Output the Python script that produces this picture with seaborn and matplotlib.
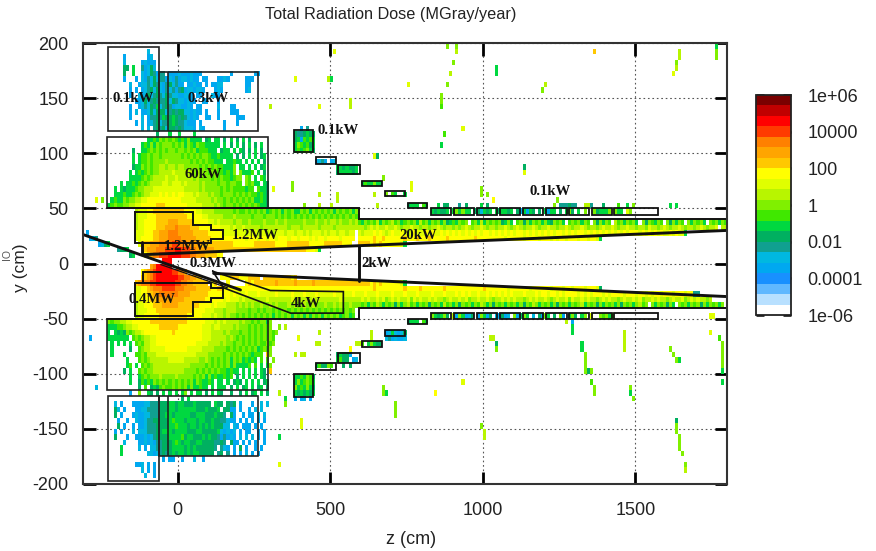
import numpy as np
import seaborn as sns
import matplotlib.pyplot as plt
from matplotlib.colors import ListedColormap
from matplotlib.patches import Rectangle

# ============ DATA ============
# one character per cell (10 cm x 5 cm), '.' = empty, see dose_colors for the bands
band_chars = "0123456789abcdefghijk"
dose_colors = ["#ffffff", "#b8e0ff", "#60b8ff", "#1890ff", "#00a8f0", "#00b8e0", "#10a090",
               "#00b060", "#00d840", "#40e800", "#80f000", "#b8f500", "#e0ff00", "#ffff00",
               "#ffc800", "#ffa500", "#ff8000", "#ff3a00", "#ff0000", "#c00000", "#7a0000"]

# z = -310 .. 300, y = 200 .. 50
upper_cells = [
    "",
    ".....................5",
    ".............4.......45",
    ".............5.....45444",
    ".............77.8..64575",
    ".............7..8..54576466.44454445444.........4.......44",
    ".............4...4.5465756645464554544.44...4454.....444",
    "...............5..455657654675644.44544.4.4455.......44",
    "...............4.4.456757546564674554554...454.......45",
    "...............4..545756765765544554.44...544........",
    ".................44575676667576554544..44...4........",
    "...............4..456576856764554454.44.....5...44...",
    "...............4.5.44575777567677554544.4...4...444..",
    "...............4...5.46676877876765454..44..4.....444..",
    ".................4.5.4567566787665444.4.......4...4.....",
    "...................5.5.67675776765554.54......4........",
    "........................7...8..8....8.........",
    ".....................8898a9a9a9898a8888.78.88.7.8.7.8.7.....",
    "...................898a8a9aaa9a9a8a98a9988888.8.7.8.7.8.7.8..",
    "................7..889a9a9a9aa9aa9a9a8999888.788.8.87.7.8.7..",
    "................8.899a9aa9aaaaaa9a9a9a9aa98898888.7.7.8.8.78.",
    "................8.899a9aaaabaaaaaaa9a9a9a99888.88988.8.8.8.7.",
    "................788a9a9aabbabbabbaaaaa9a9a9a99888a.88.8.8.78.",
    "...............8.8989a9aabbbbcbbbbbbabaaa9aa99898a.a8889.8.7.",
    "...............88889a9abbbbcbbcbbbbbabaaaa9a9a9989aa.a9.8.98.",
    "............8.88989a9abbbbccbcccbcbbbbabaaaa9aa9aa99.a9a88.87",
    "..........8.878889aabbbccccccccccbbbbbabaaaaa9a9a9999899.9887",
    "..........8889889a9abbcccdcdcdcddcccbcbbbabaa9aaa9a9a9a998987",
    "......a..8988a9aabbccdddddddddddcccccbbbbbabaa9a9a9a9a9a88987",
    "........89a99aabbccdddddeeedddddddcccccbbbbaba9aa9a9a9a9a9887",
]

# z = -310 .. 590, y = 50 .. -50
middle_cells = [
    ".................bcccddeeeeeeeeeeddddccbbbbaaaaaa9a99a9a9a9a89a9a8a9a88a9a8a9a9a9a8a9a9a8a",
    ".................bcccdddeeeeeeeeeedddddccbbbbbaaabaaaaa9aaa9aaa9a9a9a9a9a9a9a9a9a9a9a9a9a9",
    ".................bccddddeeeefffeeeeedddddccbcbbbbabbaabaaaabaaabaabaaaaabaaabaababbabaabab",
    ".................bccddddeeefffgffffeeedddddddcccbcbbcbbbbbabbbbbbbbabbbabbbbbabbbbabbbbbbb",
    ".4...............cccdddeefffgggfffffeeeeedddddcccccccbcccbccbcbcccbccbccbcbcccbcbccbccbcc",
    "..456............ccddddeefffggggfffffeeeeedddddddddddcdddcddcddcdddcddcdddcdcddcddddcdddd",
    ".....4578.........ceeefffgggghhgggfffffeeeeeeeeeedddddddeeeeeeeddddeeeeeeedddddeeeeeeddd",
    "...........6778.....efffggghhhiihhhggffffffeeeeeeeeeeeeeeeeeeeeeeeeeeeeeedddc8",
    "...............78...defgghhhiiiihhhggfffeeeedd",
    "..........................iii",
    "......................fgiiiii",
    "...................defghiiiiihhggf",
    "...................eefghiiiiiiihhggffee......dddeeedddeeee.eeeeeeeeede",
    ".................efggghhiiiiiihhggffeeeee.de...d.....dedeeeeeeefeeeeefeeeeefeeeeeeeeeeeeee",
    ".................ccddefggghhhhgggffffeeeeeddeedddddddddddddddddddddddddddddddddddddddddddd",
    ".................ccddeeffggggggffffeeeeeedddddddcdcccdcccdcccccdccccdcccdcccdcccccdcccccdc",
    ".................ccdddeefffffffffeeeeeeeddddddcdcccbcbbbbbbbcbbbbbbbcbbbbbbcbbbbbbbbcbbbbb",
    ".................bccdddeeefffffeeeeeeeddddcdcccbbbabababaabaababaaababaabaabaaabaababaabaa",
    ".................bcccdddeeeeeeeeeeeeddddcccbbbabbbaaaa9aa9a9aa9a9aa9a9a9a9a9a9a9a9a9a9a9a",
    ".................bccdddddeeeeeeeeedddddcccbcbbabaa9a9a9a9a9a9a8a9a9a8a9a8a8a9a8a9a9a89a89",
]

# z = -310 .. 300, y = -50 .. -200
lower_cells = [
    "........a9aabbccddddddeeeeeeeeeeeeddddddcccbcbcbbbbabaa9a9aa8a",
    "........88899abbccdddddddeeeeeeddddddddcccbccbbbbabaaa9a9a9a9a..a.b",
    "........8.8787a9abbcdddddddddedddddddddcccbbbbabaaa9aa9a9a9a9a9a",
    "..4.....8888888.9a9abbccdddddddddddddddcccbbbbbaba9a9a9a9a9a9a9",
    ".........8.8.8.8.9a9bbccdddddddddddddccccbbbbabaa9aa9a9a9a99a9a",
    ".........8.....7..9abbcccccdddddddcccccbbbbaaaa9a9a9a9a9a89a9a.",
    ".........8...8...99a9bbbcccccccccccccbbbbaaaaa9a9a9a9a98999.9a",
    "..............8...9a9abbbbbbcccccbbbbbaaba9a9a9a8a9a89898.9.9.a",
    "..............89.8.9a9abbbbbbbbbbbbaaaaa9a9a9a9a8a88889.9.8.8a",
    ".............7.8..9a9aabbbbbbbbbbaaaa9a9a9a9a998988.8.8.8.87.e",
    "...............8..89a9aaabaaaabaaaaa9a9a8a8988989.7.8.8.8.87.",
    "...............8..79898a9a9a9a9a9a9a8a98898.88.8.787.8.8.8.78.",
    "....5.............7.9.7879a99a9a9a8a88988.8.888.7.8.78.8.78.7",
    "...............4..a..87.7.8.8.8.8a.8.88.7.8.87..7..7.8.78.8.7",
    "................................7.8.......",
    "..........5.4...44445566677788788777877777.877.767.4...4..5.5",
    "..........75.4...4455666677788788888877787778.7744.4..4.5.5..",
    "..........7.4...4544556667788788888778887778776.74..4.44.5.5.",
    "...........4..4..544566777778988878887887787766544.4.4.4.4.4.",
    "...........7.4..4.445666777788988878878787877755.54.444.4.4.",
    "..........4.4...5.55566677888788887778877777854545.4.44..4.4.",
    "..........7...4..444545677778888978877787877646454.5.5.5.4.4.",
    ".............5....44545466777898788778877776676.744.4.4.4..4.",
    "............8.....5.4.5566777888878787777776.654.4.7.4..4.4..",
    "............8........5545676787887878877777.67.6.4.4.5.4.4.",
    "..........................4.44..4...5..4......",
    ".................445.4.4...",
    "...................5.4.4.",
    "....................5..4..",
    "",
]

# z = 590 .. 1800, the long bands beside the beam pipe
band_upper_cells = [
    "..........................8.77...6.7....8.7.......................666766....6...7.......8.7...........8.8......",
    "........................878778.8a8a88.775878.878878.748487.7.8488.7.8a7.8.a..a7888a.a88.ca",
    "",
    "98a9a9b8a9ab9a89a9a8b9a8a9a8a7898a9a.9a8b8a9a9a78a8.9a7a8a9a8a87a9a8.9a9a8a9.a7a8a9.b9a8a9a8.a7a98a9.a7a8a9.a8a9a8.a9a8a9a",
    "bbabcbcbbcbbcbabbcbbabbabbcbabbababcbabbcbabbabbcbabcbabbcbabbcbbabbcbabbcbabbabcbbcbabbcbbabbacbbabcbabbcbabbabcbabbc.bbab",
    "cbcccdcdcbcdccdcbcdcccdcdccdcdcdcdcdcdcdcddcdcdcdcdcddcdcdcdcdcdcddcdcdcddcdcdcdcdcdcdcdcdddcdcdcdcdccdcdcc8",
    "dddddeddeddddddedddedddedddddeddddddddedddddddddcdddddcddddcdddcdcddcdddcddcddc8",
    "eeeedededdddddc8",
]
band_lower_cells = [
    "eeeedededdddddc8",
    "dddddedddddddddeddddedddddddeddddddddddddedddddddcddddddcddddddcdddcddcdddcdddc7",
    "ccdcccdccccdcccdcccdccccdcccdcccdcdcdccdccdcdcdcdcdcccdcccdcddcddcdcddddcdcdcdddcdcddddcdddcddcdcddcdddcdddcdd66",
    "bcbcbbcbcabcbcbbcacbcbbcbcbbabcbbcbcabbcbbcbabbcbcbcbbabcbcbbcbabcbbcacbbcbcbbabcbcbbabcbbcbcabbcbcbbabcbbcabcbcbbab",
    "a9a8a9ba8a9a7a8ab9a8a9a7a9a8b9a8a7a9a8a9ba8a7a9a8a9a8a7a9ba8a9a8a7a9a8a9ab8a9a7a8a9a8a7a9a8ab9a.a8a9a7a8.a9a8a9a7a8a9a8a",
    "",
    "........................a878a7.b4a8457.4a847.54745.a47a8.5.74a8.7.a4.8a7.8a.c..a9a8a",
]

# cells inside the small collimator boxes, top left corner of each patch
box_fill_z = [380, 452, 527, 605, 681, 756, 380, 452, 527, 605, 681, 756]
box_fill_y = [125, 95, 90, 75, 65, 55, -100, -90, -80, -70, -60, -50]
box_fill_cells = [
    ["..4.6..", "7667877", "7849898", "8a98978", "8989a87"],
    ["4564.45"],
    ["8878778", "7888878"],
    ["8988a88"],
    ["a.98..8"],
    ["7888.98"],
    ["8898a97", "8a89a98", "a898a87", "8787878", "4.45.4."],
    ["8977a9."],
    ["78774..", "8977.45", "..7.7.."],
    ["9.8a877"],
    ["4585457", "5645445"],
    ["7888.98"],
]

# isolated cells outside the shielding
stray_z = [517, 383, 503, 495, 750, 566, 560, 466,
           915, 888, 910, 904, 891, 882, 869, 863, 860,
           931, 871, 860, 1044, 1044,
           651, 642, 379, 379, 675, 675, 762, 762, 642, 650,
           997, 997, 1013, 1035, 528, 520, 506, 468, 468, 414,
           1362, 1646, 1646, 1638, 1632, 1624,
           1766, 1762, 1762, 1204, 1199, 1194, 1130, 1130, 1130,
           1243, 1237, 1335, 1346, 1446, 1490, 304, 315,
           392, 462, 462, 452, 386, 403, 414, 560, 637, 632, 583, 593,
           675, 675, 686, 719, 719, 719, 844, 939, 400, 400,
           997, 1002, 1002, 1024, 1030, 1044, 1044, 1297,
           1329, 1329, 1338, 1338, 1338, 1338, 1340, 1351, 1356, 1362, 1362,
           1465, 1465, 1465, 1465, 1487, 1487, 1487, 1498,
           1618, 1629, 1645, 1635, 1749, 1774, 1785,
           1785, 1785, 1785, 1785, 1785, 1785,
           1634, 1634, 1634, 1645, 1645, 1645, 1651, 1662, 1667,
           1744, 1755, 1297, 1297, 1297, 1275, 332, 337, 359, 359, 337, 293, -262]
stray_y = [194, 170, 170, 167, 162, 146, 141, 143,
           198, 198, 192, 183, 174, 162, 155, 149, 143,
           124, 118, 110, 177, 173,
           98, 98, 74, 69, 80, 76, 73, 67, 61, 55,
           66, 62, 62, 58, 64, 59, 55, 62, 55, 55,
           194, 194, 187, 182, 176, 171,
           199, 194, 190, 165, 158, 158, 90, 85, 82,
           58, 53, 54, 54, 54, 54, 143, 70,
           -68, -63, -70, -70, -83, -83, -83, -75, -63, -66, -71, -74,
           -111, -116, -119, -126, -131, -135, -119, -107, -143, -148,
           -147, -152, -158, -65, -69, -74, -79, -62,
           -72, -75, -80, -85, -90, -95, -99, -99, -107, -111, -116,
           -62, -67, -72, -75, -111, -116, -119, -122,
           -79, -83, -87, -87, -63, -68, -71,
           -75, -80, -85, -90, -95, -107,
           -143, -148, -154, -155, -160, -167, -171, -183, -187,
           -45, -48, -54, -58, -63, -54, -184, -155, -122, -126, -116, -80, 58]
stray_level = ("cc8bcbbc" "aababaaa9" "c9888" "7caaaaccbb" "aaadbbbbba" "ebbabc" "8aab9a7cc"
               "aabb9abc" "cbbbbbbdbbbb" "aa8aaadccc" "abbbb7a9" "88aaaa7a9aa" "bbbbaa8a"
               "aa8ac9a" "aaaa88" "7aaaaaaab" "cc488bc88abec")

# shielding outlines, in cm
shield_top_z = [-140, 52, 52, 108, 108, 150, 150, 108, 108, -140, -140]
shield_top_y = [47, 47, 35, 35, 30, 30, 22, 22, 19, 19, 47]
shield_bottom_z = [-140, -140, 52, 52, 108, 108, 150, 150, 108, 108, -140]
shield_bottom_y = [-18, -48, -48, -35, -35, -31, -31, -22, -22, -18, -18]
pipe_top_z = [-115, -115, 1800]
pipe_top_y = [19, 8, 30]
pipe_bottom_z = [118, 1800]
pipe_bottom_y = [-9, -30]
stub_bottom_z = [-115, -115, -55]
stub_bottom_y = [-18, -8, -8]
wall_top_z = [-230, 595, 595, 1800]
wall_top_y = [50, 50, 40, 40]
wall_bottom_z = [-230, 595, 595, 1800]
wall_bottom_y = [-50, -50, -40, -40]
plug_z = [595, 595]
plug_y = [16, -16]
diagonal_z = [-307, 206]
diagonal_y = [26, -24]
diagonal2_z = [-55, 163]
diagonal2_y = [-1, -22]
wedge_z = [115, 304, 543, 543, 370, 150]
wedge_y = [-7, -24.5, -25.5, -45, -45, -22]

# big boxes: z0, y0, z1, y1
big_boxes = [(-229, 120.6, -62, 196), (-62, 120.6, 265, 174), (-33, 120.6, -33, 174),
             (-230, 50, 295, 115), (-229, -120.6, -62, -197), (-62, -120.6, 265, -175),
             (-33, -120.6, -33, -175), (-230, -50, 295, -115)]
small_box_z = [(380, 445), (452, 520), (527, 596), (605, 671), (681, 746), (756, 818), (831, 897),
               (906, 972), (982, 1047), (1057, 1122), (1132, 1198), (1207, 1276), (1283, 1348),
               (1358, 1423), (1430, 1574)]
small_box_y_top = [(100.7, 121.5), (90, 97), (81, 89), (70, 75), (61, 66), (50, 55)] + [(44, 50)] * 9
small_box_y_bottom = [(-121.5, -100), (-97, -90), (-90, -81), (-76, -70), (-66, -60), (-55, -50)] + [(-50, -45)] * 9

power_labels = ["0.1kW", "0.3kW", "60kW", "0.1kW", "0.1kW", "1.2MW", "20kW", "1.2MW", "0.3MW",
                "2kW", "0.4MW", "4kW"]
power_z = [-147, 101, 85, 527, 1220, 255, 789, 33, 115, 651, -85, 419]
power_y = [150, 150, 81, 121, 65, 25, 25, 15, 0, 0, -33, -36]

z_ticks = [0, 500, 1000, 1500]
y_ticks = [-200, -150, -100, -50, 0, 50, 100, 150, 200]
cbar_values = [-6, -4, -2, 0, 2, 4, 6]
cbar_labels = ["1e-06", "0.0001", "0.01", "1", "100", "10000", "1e+06"]
cbar_minor = [-5, -3, -1, 1, 3, 5]

# ============ GRID ============
grid = np.full((80, 211), np.nan)


def col_of(z):
    return (np.asarray(z, dtype=float) + 310) / 10


def row_of(y):
    return (200 - np.asarray(y, dtype=float)) / 5


def paint(z, y, rows):
    c0 = int(np.floor(col_of(z)))
    r0 = int(np.floor(row_of(y)))
    for i, row in enumerate(rows):
        for j, ch in enumerate(row):
            if ch == "." or r0 + i >= 80 or c0 + j >= 211:
                continue
            grid[r0 + i, c0 + j] = -6 + (band_chars.index(ch) + 0.5) * 12 / 21


paint(-310, 200, upper_cells)
paint(-310, 50, [row[:90] for row in middle_cells])
paint(-310, -50, lower_cells)
paint(590, 55, band_upper_cells)
paint(590, -15, band_lower_cells)
for z, y, cells in zip(box_fill_z, box_fill_y, box_fill_cells):
    paint(z, y, cells)
for z, y, ch in zip(stray_z, stray_y, stray_level):
    paint(z, y, [ch])

# ============ PLOT ============
sns.set_style("white")
plt.rcParams["font.family"] = ["Liberation Sans", "DejaVu Sans"]
W, H = 876, 551
fig = plt.figure(figsize=(W / 100, H / 100), dpi=100)
ax = fig.add_axes([83 / W, 1 - 484 / H, 644 / W, 441 / H])
cax = fig.add_axes([756 / W, 1 - 315 / H, 35 / W, 220 / H])

sns.heatmap(grid, ax=ax, cbar_ax=cax, cmap=ListedColormap(dose_colors), vmin=-6, vmax=6,
            xticklabels=False, yticklabels=False, linewidths=0)

ax.set_xticks(col_of(z_ticks))
ax.set_xticklabels(z_ticks, rotation=0, fontsize=13, color="#222222")
ax.set_yticks(row_of(y_ticks))
ax.set_yticklabels(y_ticks, rotation=0, fontsize=13, color="#222222")
ax.tick_params(direction="in", length=9, width=2, color="black", top=True, right=True,
               left=True, bottom=True)
ax.tick_params(axis="x", pad=13)
ax.tick_params(axis="y", pad=10.5)
ax.grid(True, linestyle=(0, (1.5, 2.5)), linewidth=0.8, color="#555555")
for spine in ax.spines.values():
    spine.set_visible(True)
    spine.set_linewidth(1.5)
    spine.set_color("#333333")

black = {"color": "#111111", "solid_joinstyle": "miter"}
for zs, ys in [(shield_top_z, shield_top_y), (shield_bottom_z, shield_bottom_y),
               (stub_bottom_z, stub_bottom_y), (wall_top_z, wall_top_y),
               (wall_bottom_z, wall_bottom_y)]:
    ax.plot(col_of(zs), row_of(ys), lw=1.4, **black)
for zs, ys in [(pipe_top_z, pipe_top_y), (pipe_bottom_z, pipe_bottom_y), (plug_z, plug_y),
               (diagonal_z, diagonal_y)]:
    ax.plot(col_of(zs), row_of(ys), lw=2.1, **black)
ax.plot(col_of(diagonal2_z), row_of(diagonal2_y), lw=0.9, **black)
ax.plot(col_of(wedge_z + wedge_z[:1]), row_of(wedge_y + wedge_y[:1]), lw=1.2, **black)

for z0, y0, z1, y1 in big_boxes:
    ax.add_patch(Rectangle((col_of(z0), row_of(y1)), col_of(z1) - col_of(z0), row_of(y0) - row_of(y1),
                           fill=False, ec="#222222", lw=1.2))
for ys_list in (small_box_y_top, small_box_y_bottom):
    for (z0, z1), (y0, y1) in zip(small_box_z, ys_list):
        ax.add_patch(Rectangle((col_of(z0), row_of(y1)), col_of(z1) - col_of(z0), row_of(y0) - row_of(y1),
                               fill=False, ec="#111111", lw=1.3))

for text, z, y in zip(power_labels, power_z, power_y):
    ax.text(col_of(z), row_of(y), text, family="Liberation Serif", weight="bold", fontsize=10.6,
            color="#111111", ha="center", va="center")

# colour bar
cb = ax.collections[0].colorbar
cb.outline.set_visible(True)
cb.outline.set_linewidth(1.3)
cb.outline.set_edgecolor("#222222")
cax.set_yticks(cbar_values)
cax.set_yticklabels(cbar_labels, fontsize=13, color="#222222")
cax.set_yticks(cbar_minor, minor=True)
cax.tick_params(which="major", direction="in", length=5.5, width=1.8, left=True, right=True,
                color="black", pad=12)
cax.tick_params(which="minor", direction="in", length=2.5, width=1.3, left=True, right=True,
                color="black")

fig.text(391 / W, 1 - 14 / H, "Total Radiation Dose (MGray/year)", fontsize=11.7, color="#222222",
         ha="center", va="center")
fig.text(411 / W, 1 - 539 / H, "z (cm)", fontsize=13, color="#222222", ha="center", va="center")
fig.text(21 / W, 1 - 268 / H, "y (cm)", fontsize=12.5, color="#222222", ha="center", va="center",
         rotation=90)
fig.text(7 / W, 1 - 255 / H, "IO", fontsize=7.5, color="#555555", ha="center", va="center",
         rotation=90)

fig.savefig("out.png", dpi=100, facecolor="white")
plt.close(fig)
